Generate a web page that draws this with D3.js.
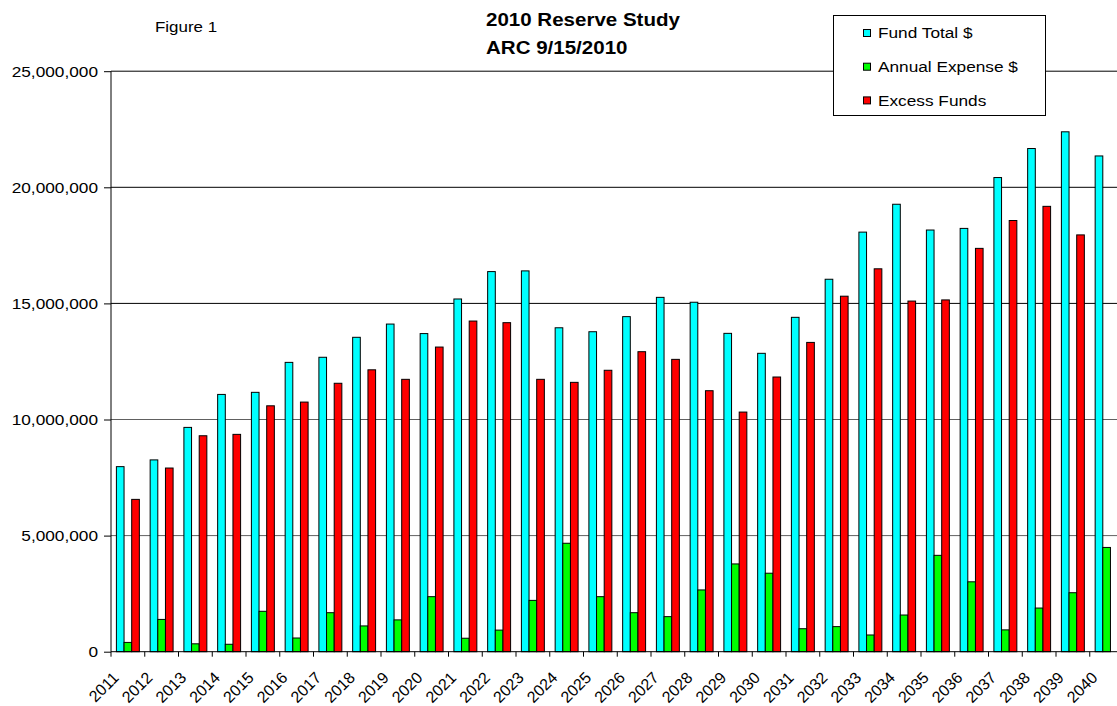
<!DOCTYPE html>
<html>
<head>
<meta charset="utf-8">
<script src="https://cdn.jsdelivr.net/npm/d3@7"></script>
<style>
  html, body { margin: 0; padding: 0; background: #fff; }
  svg { display: block; font-family: "Liberation Sans", Arial, sans-serif; }
</style>
</head>
<body>
<svg id="chart" width="1117" height="706"></svg>
<script>
const years = ["2011","2012","2013","2014","2015","2016","2017","2018","2019","2020",
               "2021","2022","2023","2024","2025","2026","2027","2028","2029","2030",
               "2031","2032","2033","2034","2035","2036","2037","2038","2039","2040"];
const fundTotal = [7970000, 8260000, 9660000, 11080000, 11170000, 12460000, 12680000, 13540000, 14110000, 13700000,
                   15190000, 16370000, 16400000, 13950000, 13780000, 14430000, 15260000, 15050000, 13710000, 12850000,
                   14400000, 16040000, 18070000, 19270000, 18160000, 18230000, 20420000, 21670000, 22390000, 21350000];
const annualExpense = [400000, 1390000, 340000, 320000, 1740000, 590000, 1680000, 1110000, 1370000, 2370000,
                       580000, 930000, 2210000, 4670000, 2370000, 1680000, 1510000, 2660000, 3780000, 3380000,
                       990000, 1080000, 720000, 1580000, 4150000, 3010000, 940000, 1880000, 2540000, 4490000];
const excessFunds = [6560000, 7910000, 9300000, 9360000, 10590000, 10750000, 11560000, 12140000, 11730000, 13120000,
                     14240000, 14170000, 11730000, 11600000, 12120000, 12920000, 12590000, 11240000, 10320000, 11830000,
                     13320000, 15310000, 16490000, 15100000, 15150000, 17370000, 18570000, 19180000, 17950000, null];
const seriesNames = ["Fund Total $", "Annual Expense $", "Excess Funds"];
const seriesColors = ["#00FFFF", "#00FF00", "#FF0000"];
const yTicks = [0, 5000000, 10000000, 15000000, 20000000, 25000000];
const titleLines = ["2010 Reserve Study", "ARC 9/15/2010"];
const figureLabel = "Figure 1";

(function () {
const seriesData = [fundTotal, annualExpense, excessFunds];

const svg = d3.select("#chart");
const pLeft = 111, pRight = 111 + 30 * 33.75, pTop = 71.2, pBottom = 651.7;

const x0 = d3.scaleBand().domain(years).range([pLeft, pRight]).paddingInner(0.32).paddingOuter(0.16);
const x1 = d3.scaleBand().domain(d3.range(seriesNames.length)).range([0, x0.bandwidth()]);
const y = d3.scaleLinear().domain([0, 25000000]).range([pBottom, pTop]);

// gridlines
svg.append("g").selectAll("line").data(yTicks.filter(d => d > 0)).join("line")
  .attr("x1", pLeft).attr("x2", 1117)
  .attr("y1", d => y(d)).attr("y2", d => y(d))
  .attr("stroke", d => d >= 15000000 ? "#000" : "#606060").attr("stroke-width", 1);

// bars
const groups = svg.append("g").selectAll("g").data(years).join("g")
  .attr("transform", d => `translate(${x0(d)},0)`);
groups.selectAll("rect")
  .data((d, i) => seriesData.map((s, k) => ({k, v: s[i]})).filter(e => e.v != null))
  .join("rect")
  .attr("x", e => x1(e.k))
  .attr("width", x1.bandwidth())
  .attr("y", e => y(e.v))
  .attr("height", e => y(0) - y(e.v))
  .attr("fill", e => seriesColors[e.k])
  .attr("stroke", "#000").attr("stroke-width", 1);

// y axis
const yAxis = svg.append("g").attr("transform", `translate(${pLeft},0)`)
  .call(d3.axisLeft(y).tickValues(yTicks).tickFormat(d3.format(",")).tickSize(7).tickPadding(6));
yAxis.select(".domain").attr("stroke", "#000").attr("d", `M0,${pTop}V${pBottom}`);
yAxis.selectAll(".tick line").attr("stroke", "#000");
yAxis.selectAll(".tick text")
  .attr("x", null).attr("dy", "0.35em")
  .attr("transform", "translate(-13,0) scale(1.15,1)")
  .style("font-size", "15px").attr("fill", "#000");

// x axis
const xAxis = svg.append("g").attr("transform", `translate(0,${pBottom})`)
  .call(d3.axisBottom(x0).tickSize(0));
xAxis.select(".domain").attr("stroke", "#000").attr("d", `M${pLeft},0H1117`);
xAxis.selectAll(".tick text")
  .attr("y", 0).attr("dy", 0).attr("x", 0)
  .attr("text-anchor", "end")
  .attr("transform", "translate(-8,27) rotate(-45)")
  .style("font-size", "16px").attr("fill", "#000");
// category boundary ticks
const step = x0.step(), pOut = x0.paddingOuter();
svg.append("g").selectAll("line").data(years).join("line")
  .attr("x1", d => x0(d) - step * pOut).attr("x2", d => x0(d) - step * pOut)
  .attr("y1", pBottom).attr("y2", pBottom + 5)
  .attr("stroke", "#000");

// titles
svg.append("g").selectAll("text").data(titleLines).join("text")
  .attr("transform", (d, i) => `translate(486,${25.7 + i * 28.6}) scale(1.11,1)`)
  .style("font-size", "18.5px").style("font-weight", "bold").attr("fill", "#000")
  .text(d => d);
svg.append("text")
  .attr("transform", "translate(155,31.7) scale(1.13,1)")
  .style("font-size", "15px").attr("fill", "#000")
  .text(figureLabel);

// legend
const lg = svg.append("g");
lg.append("rect").attr("x", 833.5).attr("y", 15.5).attr("width", 212).attr("height", 100)
  .attr("fill", "#fff").attr("stroke", "#000");
const rows = lg.selectAll("g").data(seriesNames).join("g")
  .attr("transform", (d, i) => `translate(0,${i * 33.7})`);
rows.append("rect").attr("x", 863.5).attr("y", 29.5).attr("width", 7).attr("height", 7)
  .attr("fill", (d, i) => seriesColors[i]).attr("stroke", "#000");
rows.append("text")
  .attr("transform", "translate(878,38.3) scale(1.15,1)")
  .style("font-size", "15px").attr("fill", "#000")
  .text(d => d);
})();
</script>
</body>
</html>
